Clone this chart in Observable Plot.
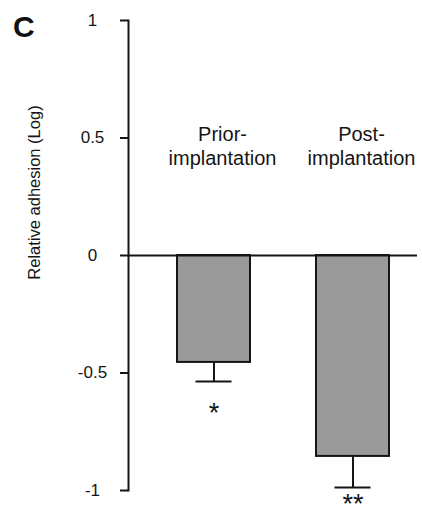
<!DOCTYPE html>
<html>
<head>
<meta charset="utf-8">
<script src="https://cdn.jsdelivr.net/npm/d3@7"></script>
<script src="https://cdn.jsdelivr.net/npm/@observablehq/plot@0.6"></script>
<style>
  html, body { margin: 0; padding: 0; background: #fff; }
  #wrap { position: relative; width: 422px; height: 508px; font-family: "Liberation Sans", Arial, sans-serif; }
  #panel { position: absolute; left: 13px; top: 12px; font-size: 30px; line-height: 30px; font-weight: bold; color: #111; }
  #chart svg { display: block; }
</style>
</head>
<body>
<div id="wrap">
  <div id="chart"></div>
  <div id="panel">C</div>
</div>
<script>
const categories = ["Prior-\nimplantation", "Post-\nimplantation"];
const means = [-0.455, -0.855];
const errors = [0.081, 0.132];
const significance = ["*", "**"];
const yTicks = [-1, -0.5, 0, 0.5, 1];
const yLabel = "Relative adhesion (Log)";

const data = categories.map((c, i) => ({cat: c, mean: means[i], err: errors[i], sig: significance[i]}));
const ink = "#151515";

const chart = Plot.plot({
  width: 422,
  height: 508,
  marginTop: 20,
  marginBottom: 18,
  marginLeft: 128,
  marginRight: 5,
  style: {fontFamily: "'Liberation Sans', Arial, sans-serif", color: ink, background: "#fff"},
  x: {domain: categories, range: [149.5, 417.3], paddingInner: 0.476, paddingOuter: 0.2, axis: null},
  y: {domain: [-1, 1], axis: null},
  marks: [
    Plot.barY(data, {x: "cat", y: "mean", fill: "#9a9a9a", stroke: ink, strokeWidth: 2}),
    Plot.ruleX(data, {x: "cat", y1: "mean", y2: d => d.mean - d.err, stroke: ink, strokeWidth: 2}),
    Plot.tickY(data, {x: "cat", y: d => d.mean - d.err, insetLeft: 18.5, insetRight: 18.5, stroke: ink, strokeWidth: 2}),
    Plot.ruleY([0], {stroke: ink, strokeWidth: 2}),
    Plot.frame({anchor: "left", stroke: ink, strokeWidth: 2}),
    Plot.axisY({ticks: yTicks, tickSize: 8, tickPadding: 28, textAnchor: "middle",
      tickFormat: d => String(d), fontSize: 17, stroke: ink, strokeWidth: 2, fill: ink, label: null}),
    Plot.text(data, {x: "cat", text: "cat", frameAnchor: "top", lineAnchor: "top", dy: 103, dx: 8.5,
      fontSize: 20, lineHeight: 1.2, fill: ink}),
    Plot.text(data.slice(0, 1), {x: "cat", y: d => d.mean - d.err, text: "sig", lineAnchor: "top", dy: 21,
      fontSize: 27, fill: ink}),
    Plot.text(data.slice(1), {x: "cat", y: d => d.mean - d.err, text: "sig", lineAnchor: "top", dy: 6,
      fontSize: 27, fill: ink}),
    Plot.text([yLabel], {frameAnchor: "left", textAnchor: "middle", rotate: -90, dx: -94, dy: -63, fontSize: 16.5, fill: ink})
  ]
});
document.getElementById("chart").appendChild(chart);
</script>
</body>
</html>
